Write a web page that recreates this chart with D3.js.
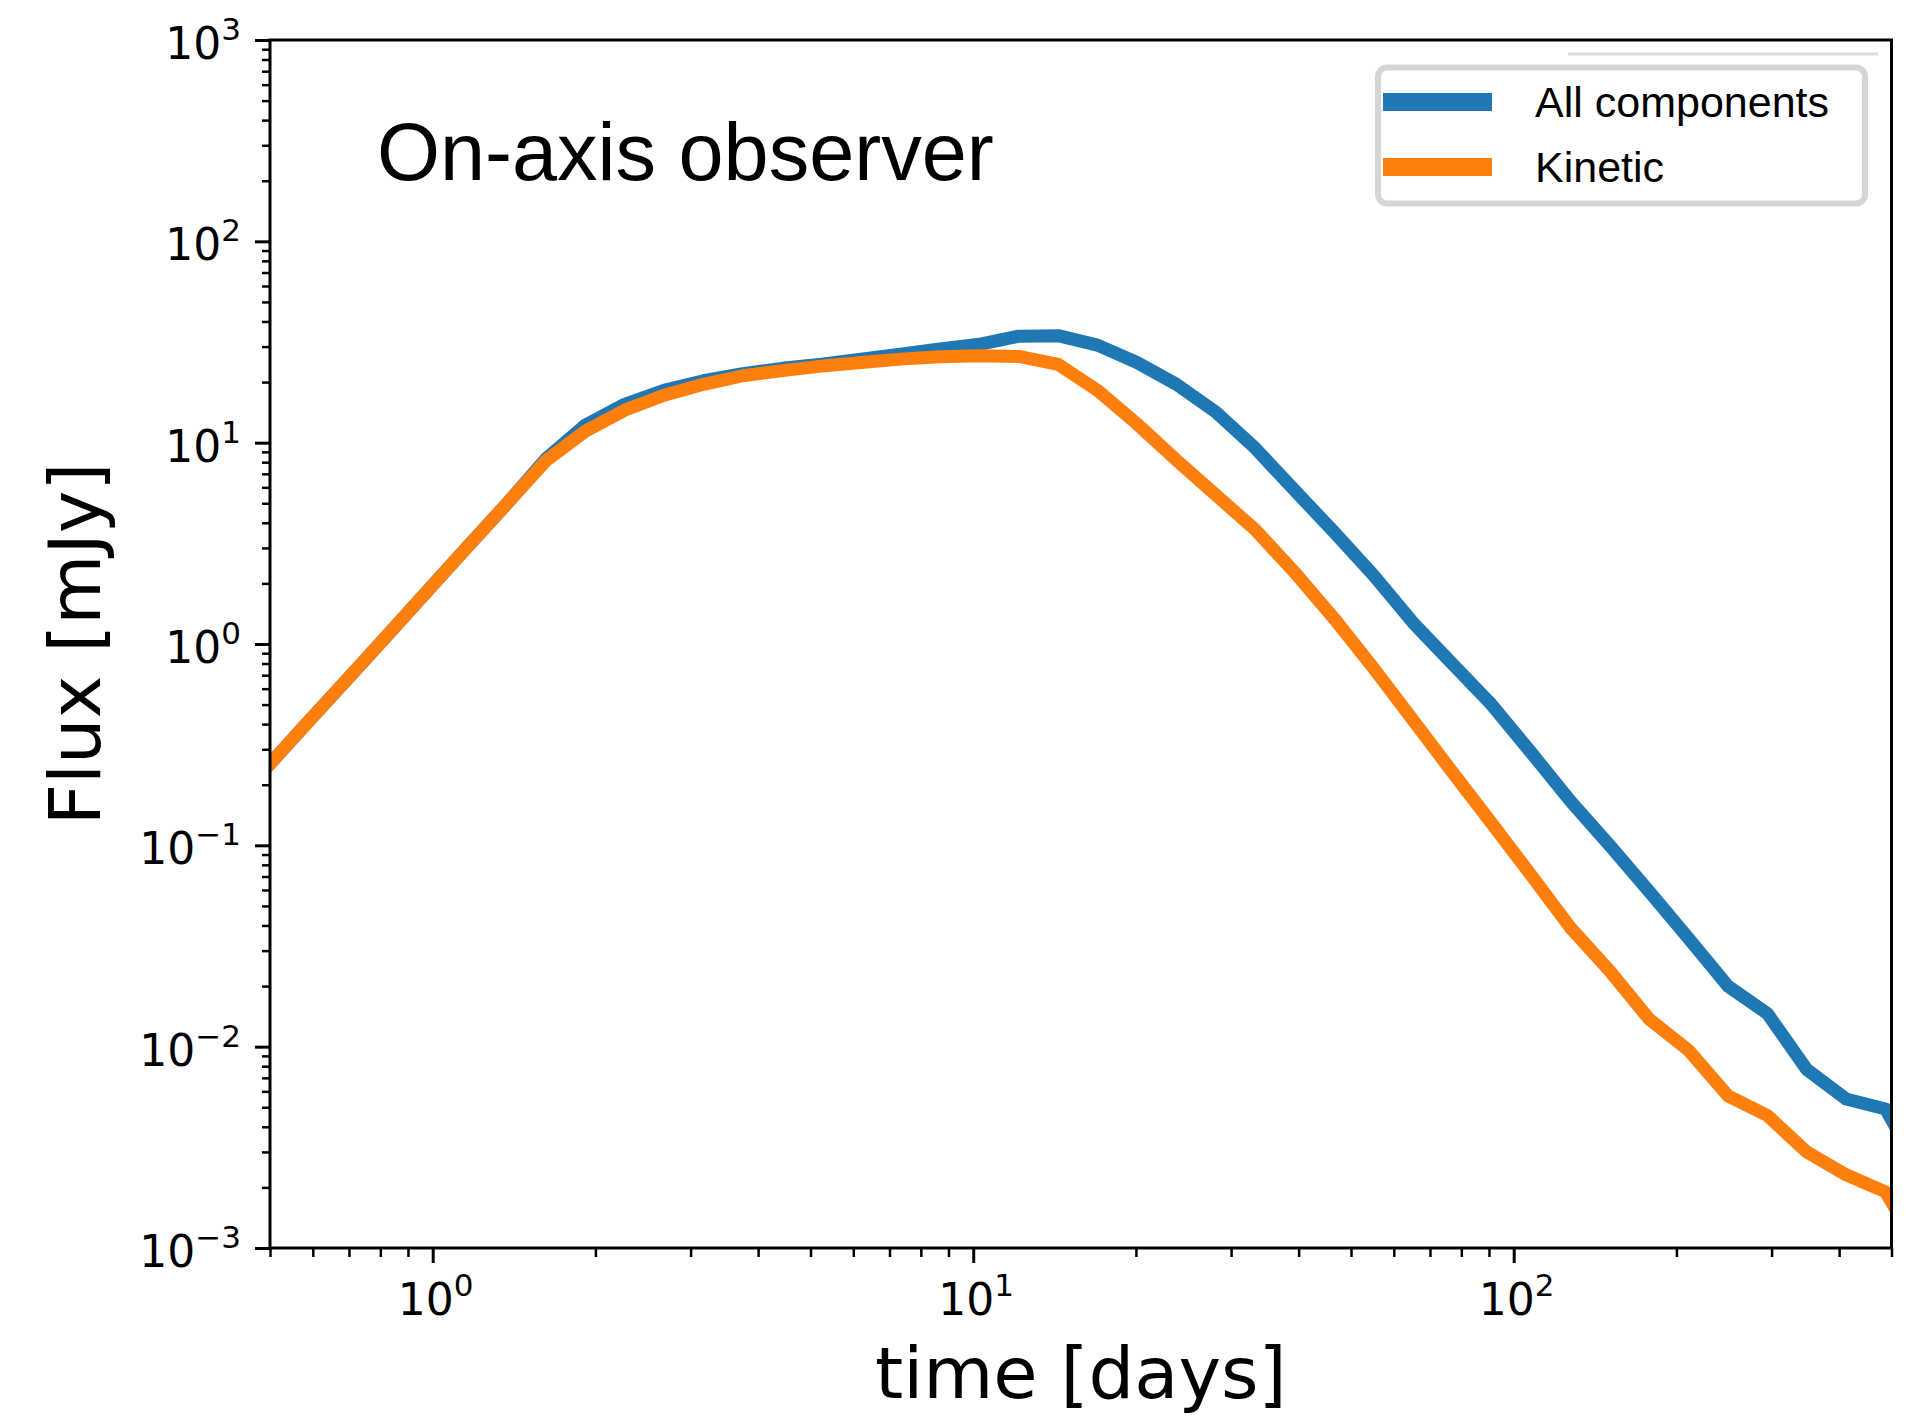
<!DOCTYPE html>
<html>
<head>
<meta charset="utf-8">
<script src="https://cdn.jsdelivr.net/npm/d3@7"></script>
<style>
  html, body { margin: 0; padding: 0; background: #fff; }
  svg { display: block; }
</style>
</head>
<body>
<svg id="chart" width="1906" height="1421"></svg>
<script>
// Light-curve samples (time in days, flux in mJy)
const times = [
  0.500, 0.591, 0.700, 0.828, 0.979, 1.157, 1.369, 1.619, 1.915, 2.265,
  2.679, 3.169, 3.749, 4.434, 5.244, 6.203, 7.337, 8.679, 10.26, 12.14,
  14.36, 16.98, 20.09, 23.76, 28.10, 33.24, 39.32, 46.51, 55.01, 65.07,
  76.91, 90.97, 107.6, 127.3, 150.5, 178.1, 210.6, 249.1, 294.7, 348.5,
  412.1, 487.5, 576.7
];

const allComponents = [
  0.254, 0.416, 0.682, 1.12, 1.84, 3.02, 4.95, 8.3, 12.2, 15.5,
  18.2, 20.3, 22.0, 23.4, 24.5, 26.0, 27.5, 29.2, 30.8, 33.8,
  34.0, 30.5, 25.0, 19.5, 14.2, 9.4, 5.8, 3.6, 2.2, 1.28,
  0.80, 0.50, 0.29, 0.166, 0.100, 0.059, 0.0345, 0.0200, 0.0146, 0.0077,
  0.0055, 0.0049, 0.0022
];

const kinetic = [
  0.254, 0.416, 0.682, 1.12, 1.84, 3.02, 4.95, 8.13, 11.4, 14.5,
  17.2, 19.5, 21.5, 22.8, 24.0, 25.0, 26.0, 26.7, 27.0, 26.8,
  24.5, 18.2, 12.4, 8.2, 5.5, 3.7, 2.27, 1.34, 0.76, 0.42,
  0.232, 0.129, 0.0713, 0.0390, 0.0238, 0.0137, 0.0096, 0.0057, 0.00455, 0.0030,
  0.00231, 0.0019, 0.00088
];

const seriesNames = ["All components", "Kinetic"];
const seriesColors = ["#1f77b4", "#ff7f0e"];

const xDomain = [0.5, 500];
const yDomain = [1e-3, 1e3];
const xTickExponents = [0, 1, 2];
const yTickExponents = [-3, -2, -1, 0, 1, 2, 3];

const titleText = "On-axis observer";
const xLabelText = "time [days]";
const yLabelText = "Flux [mJy]";

// ---- layout ----
const plot = { left: 270, right: 1891.5, top: 40, bottom: 1248 };

const svg = d3.select("#chart");
svg.append("rect").attr("width", 1906).attr("height", 1421).attr("fill", "#fff");

const x = d3.scaleLog().domain(xDomain).range([plot.left, plot.right]);
const y = d3.scaleLog().domain(yDomain).range([plot.bottom, plot.top]);

// minor tick positions: 2..9 x 10^k inside the domain
function minorTicks(domain) {
  const out = [];
  const lo = Math.floor(Math.log10(domain[0]));
  const hi = Math.ceil(Math.log10(domain[1]));
  for (let k = lo; k <= hi; k++) {
    for (let m = 2; m <= 9; m++) {
      const v = m * Math.pow(10, k);
      if (v >= domain[0] * 0.9999 && v <= domain[1] * 1.0001) out.push(v);
    }
  }
  return out;
}

const xMajors = xTickExponents.map(e => Math.pow(10, e));
const yMajors = yTickExponents.map(e => Math.pow(10, e));

// ---- data lines ----
svg.append("defs").append("clipPath").attr("id", "plot-clip")
  .append("rect")
  .attr("x", plot.left).attr("y", plot.top)
  .attr("width", plot.right - plot.left).attr("height", plot.bottom - plot.top);

const line = d3.line()
  .x((d, i) => x(times[i]))
  .y(d => y(d));

const lines = svg.append("g").attr("clip-path", "url(#plot-clip)");
[allComponents, kinetic].forEach((vals, k) => {
  lines.append("path")
    .attr("d", line(vals))
    .attr("fill", "none")
    .attr("stroke", seriesColors[k])
    .attr("stroke-width", 13)
    .attr("stroke-linejoin", "round")
    .attr("stroke-linecap", "square");
});

// ---- axes ----
function styleAxis(g, width) {
  g.select(".domain").remove();
  g.selectAll(".tick line").attr("stroke", "#000").attr("stroke-width", width);
  g.selectAll(".tick text").remove();
}

svg.append("g")
  .attr("transform", `translate(0,${plot.bottom})`)
  .call(d3.axisBottom(x).tickValues(minorTicks(xDomain)).tickSize(9).tickSizeOuter(0).tickFormat(""))
  .call(g => styleAxis(g, 2.5));
svg.append("g")
  .attr("transform", `translate(0,${plot.bottom})`)
  .call(d3.axisBottom(x).tickValues(xMajors).tickSize(15).tickSizeOuter(0).tickFormat(""))
  .call(g => styleAxis(g, 3));

svg.append("g")
  .attr("transform", `translate(${plot.left},0)`)
  .call(d3.axisLeft(y).tickValues(minorTicks(yDomain)).tickSize(8).tickSizeOuter(0).tickFormat(""))
  .call(g => styleAxis(g, 2.5));
svg.append("g")
  .attr("transform", `translate(${plot.left},0)`)
  .call(d3.axisLeft(y).tickValues(yMajors).tickSize(15).tickSizeOuter(0).tickFormat(""))
  .call(g => styleAxis(g, 3));

// frame
svg.append("rect")
  .attr("x", plot.left).attr("y", plot.top)
  .attr("width", plot.right - plot.left).attr("height", plot.bottom - plot.top)
  .attr("fill", "none").attr("stroke", "#000").attr("stroke-width", 3);

// tick labels as 10^k
function powerLabel(sel, exp) {
  sel.append("tspan").text("10");
  sel.append("tspan")
    .attr("dy", -19)
    .attr("font-size", 31)
    .text(exp < 0 ? "\u2212" + Math.abs(exp) : String(exp));
}

const tickFont = "'DejaVu Sans', sans-serif";

xTickExponents.forEach(e => {
  const t = svg.append("text")
    .attr("x", x(Math.pow(10, e)) + 3)
    .attr("y", plot.bottom + 67)
    .attr("text-anchor", "middle")
    .attr("font-family", tickFont)
    .attr("font-size", 44)
    .attr("fill", "#000");
  powerLabel(t, e);
});

yTickExponents.forEach(e => {
  const t = svg.append("text")
    .attr("x", 241)
    .attr("y", y(Math.pow(10, e)) + 19)
    .attr("text-anchor", "end")
    .attr("font-family", tickFont)
    .attr("font-size", 44)
    .attr("fill", "#000");
  powerLabel(t, e);
});

// axis titles
svg.append("text")
  .attr("x", (plot.left + plot.right) / 2)
  .attr("y", 1398)
  .attr("text-anchor", "middle")
  .attr("font-family", tickFont)
  .attr("font-size", 72)
  .attr("fill", "#000")
  .text(xLabelText);

svg.append("text")
  .attr("transform", `translate(100,${(plot.top + plot.bottom) / 2}) rotate(-90)`)
  .attr("text-anchor", "middle")
  .attr("font-family", tickFont)
  .attr("font-size", 72)
  .attr("fill", "#000")
  .text(yLabelText);

// panel title inside the axes
svg.append("text")
  .attr("x", 377)
  .attr("y", 180)
  .attr("font-family", "'Liberation Sans', Arial, sans-serif")
  .attr("font-size", 81)
  .attr("fill", "#000")
  .text(titleText);

// ---- legend ----
const legend = svg.append("g");
legend.append("line")
  .attr("x1", 1568).attr("x2", 1878).attr("y1", 54).attr("y2", 54)
  .attr("stroke", "#dddddd").attr("stroke-width", 3);
legend.append("rect")
  .attr("x", 1378).attr("y", 67.5)
  .attr("width", 487).attr("height", 136)
  .attr("rx", 9).attr("ry", 9)
  .attr("fill", "#fff")
  .attr("stroke", "#d5d5d5").attr("stroke-width", 6);

const legendRows = [102, 167];
seriesNames.forEach((name, k) => {
  legend.append("rect")
    .attr("x", 1383).attr("y", legendRows[k] - 9)
    .attr("width", 109).attr("height", 18)
    .attr("fill", seriesColors[k]);
  legend.append("text")
    .attr("x", 1535).attr("y", legendRows[k] + 15)
    .attr("font-family", "'Liberation Sans', Arial, sans-serif")
    .attr("font-size", 43)
    .attr("fill", "#000")
    .text(name);
});
</script>
</body>
</html>
